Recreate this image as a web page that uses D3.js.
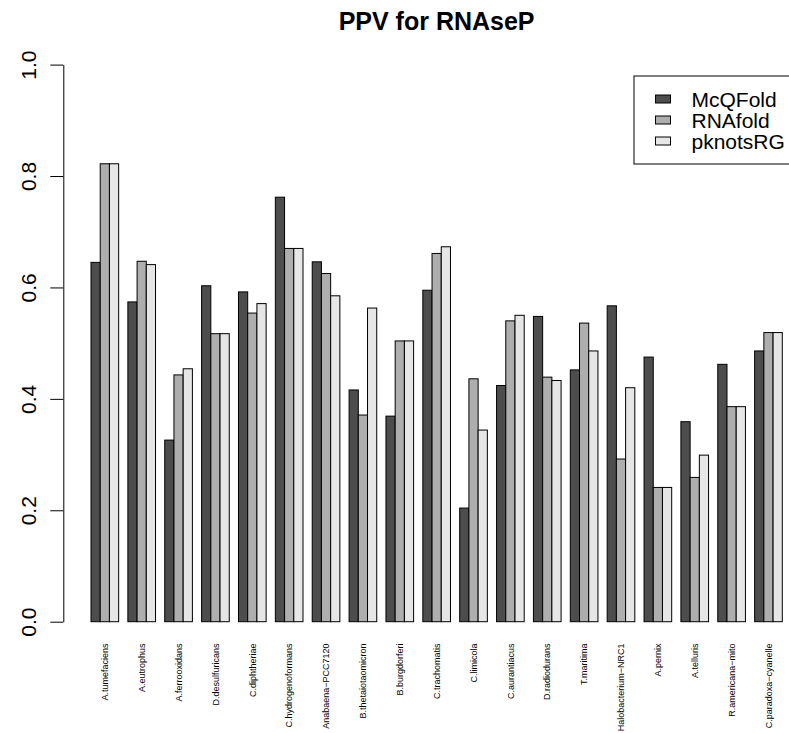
<!DOCTYPE html>
<html>
<head>
<meta charset="utf-8">
<script src="https://cdn.jsdelivr.net/npm/d3@7"></script>
<style>
  html, body { margin: 0; padding: 0; background: #ffffff; }
  svg { display: block; }
  text { font-family: "Liberation Sans", Arial, Helvetica, sans-serif; fill: #000; }
</style>
</head>
<body>
<svg id="chart" width="789" height="733"></svg>
<script>
const title = "PPV for RNAseP";
const categories = ["A.tumefaciens","A.eutrophus","A.ferrooxidans","D.desulfuricans","C.diphtheriae",
  "C.hydrogenoformans","Anabaena\u2212PCC7120","B.thetaiotaomicron","B.burgdorferi","C.trachomatis",
  "C.limicola","C.aurantiacus","D.radiodurans","T.maritima","Halobacterium\u2212NRC1","A.pernix",
  "A.telluris","R.americana\u2212mito","C.paradoxa\u2212cyanelle"];
const seriesNames = ["McQFold","RNAfold","pknotsRG"];
const mcqfold  = [0.645,0.574,0.326,0.603,0.592,0.762,0.646,0.416,0.369,0.595,0.204,0.424,0.548,0.452,0.567,0.475,0.359,0.462,0.486];
const rnafold  = [0.822,0.647,0.443,0.517,0.554,0.670,0.625,0.371,0.504,0.661,0.436,0.540,0.439,0.536,0.292,0.241,0.259,0.386,0.519];
const pknotsrg = [0.822,0.641,0.454,0.517,0.571,0.670,0.585,0.563,0.504,0.673,0.344,0.550,0.433,0.486,0.420,0.241,0.299,0.386,0.519];
const yTicks = [0.0,0.2,0.4,0.6,0.8,1.0];
const colors = ["#4D4D4D","#AEAEAE","#E6E6E6"];

const seriesValues = [mcqfold, rnafold, pknotsrg];
const svg = d3.select("#chart");
svg.append("rect").attr("width",789).attr("height",733).attr("fill","#fff");

const y = d3.scaleLinear().domain([0,1]).range([621.7, 64.6]);
const x0 = d3.scaleBand().domain(categories).range([91, 782.3]).paddingInner(0.25).paddingOuter(0);
const x1 = d3.scaleBand().domain(seriesNames).range([0, x0.bandwidth()]).padding(0);
const color = d3.scaleOrdinal().domain(seriesNames).range(colors);

// bars
const groups = svg.append("g").selectAll("g").data(categories).join("g")
  .attr("transform", d => `translate(${x0(d)},0)`);
groups.selectAll("rect")
  .data((c, i) => seriesNames.map((s, k) => ({s, v: seriesValues[k][i]})))
  .join("rect")
  .attr("x", d => x1(d.s))
  .attr("y", d => y(d.v))
  .attr("width", x1.bandwidth())
  .attr("height", d => y(0) - y(d.v))
  .attr("fill", d => color(d.s))
  .attr("stroke", "#000")
  .attr("stroke-width", 1);

// y axis
const yAxis = d3.axisLeft(y).tickValues(yTicks).tickFormat(d3.format(".1f")).tickSize(13).tickSizeOuter(0);
const ga = svg.append("g").attr("transform", "translate(63.3,0)").call(yAxis);
ga.select(".domain").attr("stroke", "#000").attr("stroke-width", 1);
ga.selectAll(".tick line").attr("stroke", "#000").attr("stroke-width", 1);
ga.selectAll(".tick text")
  .attr("x", null).attr("dy", null).attr("y", null)
  .attr("transform", "translate(-27.8,0) rotate(-90)")
  .attr("text-anchor", "middle")
  .style("font-size", "21px")
  .style("font-family", "'Liberation Sans', Arial, Helvetica, sans-serif")
  .attr("fill", "#000");

// x labels
svg.append("g").selectAll("text").data(categories).join("text")
  .attr("transform", d => `translate(${x0(d) + x0.bandwidth()/2 + 3.2},643.5) rotate(-90)`)
  .attr("text-anchor", "end")
  .style("font-size", "9px")
  .text(d => d);

// title
svg.append("text")
  .attr("x", 436.6).attr("y", 29.5)
  .attr("text-anchor", "middle")
  .style("font-size", "25px").style("font-weight", "bold")
  .text(title);

// legend
const lg = svg.append("g");
lg.append("rect").attr("x", 634).attr("y", 76).attr("width", 200).attr("height", 88)
  .attr("fill", "none").attr("stroke", "#000").attr("stroke-width", 1);
const rows = lg.selectAll("g").data(seriesNames).join("g")
  .attr("transform", (d, i) => `translate(0,${99 + i * 21})`);
rows.append("rect").attr("x", 655.5).attr("y", -4).attr("width", 15).attr("height", 8)
  .attr("fill", d => color(d)).attr("stroke", "#000").attr("stroke-width", 1);
rows.append("text").attr("x", 691.5).attr("y", 7.5)
  .style("font-size", "21px").text(d => d);
</script>
</body>
</html>
